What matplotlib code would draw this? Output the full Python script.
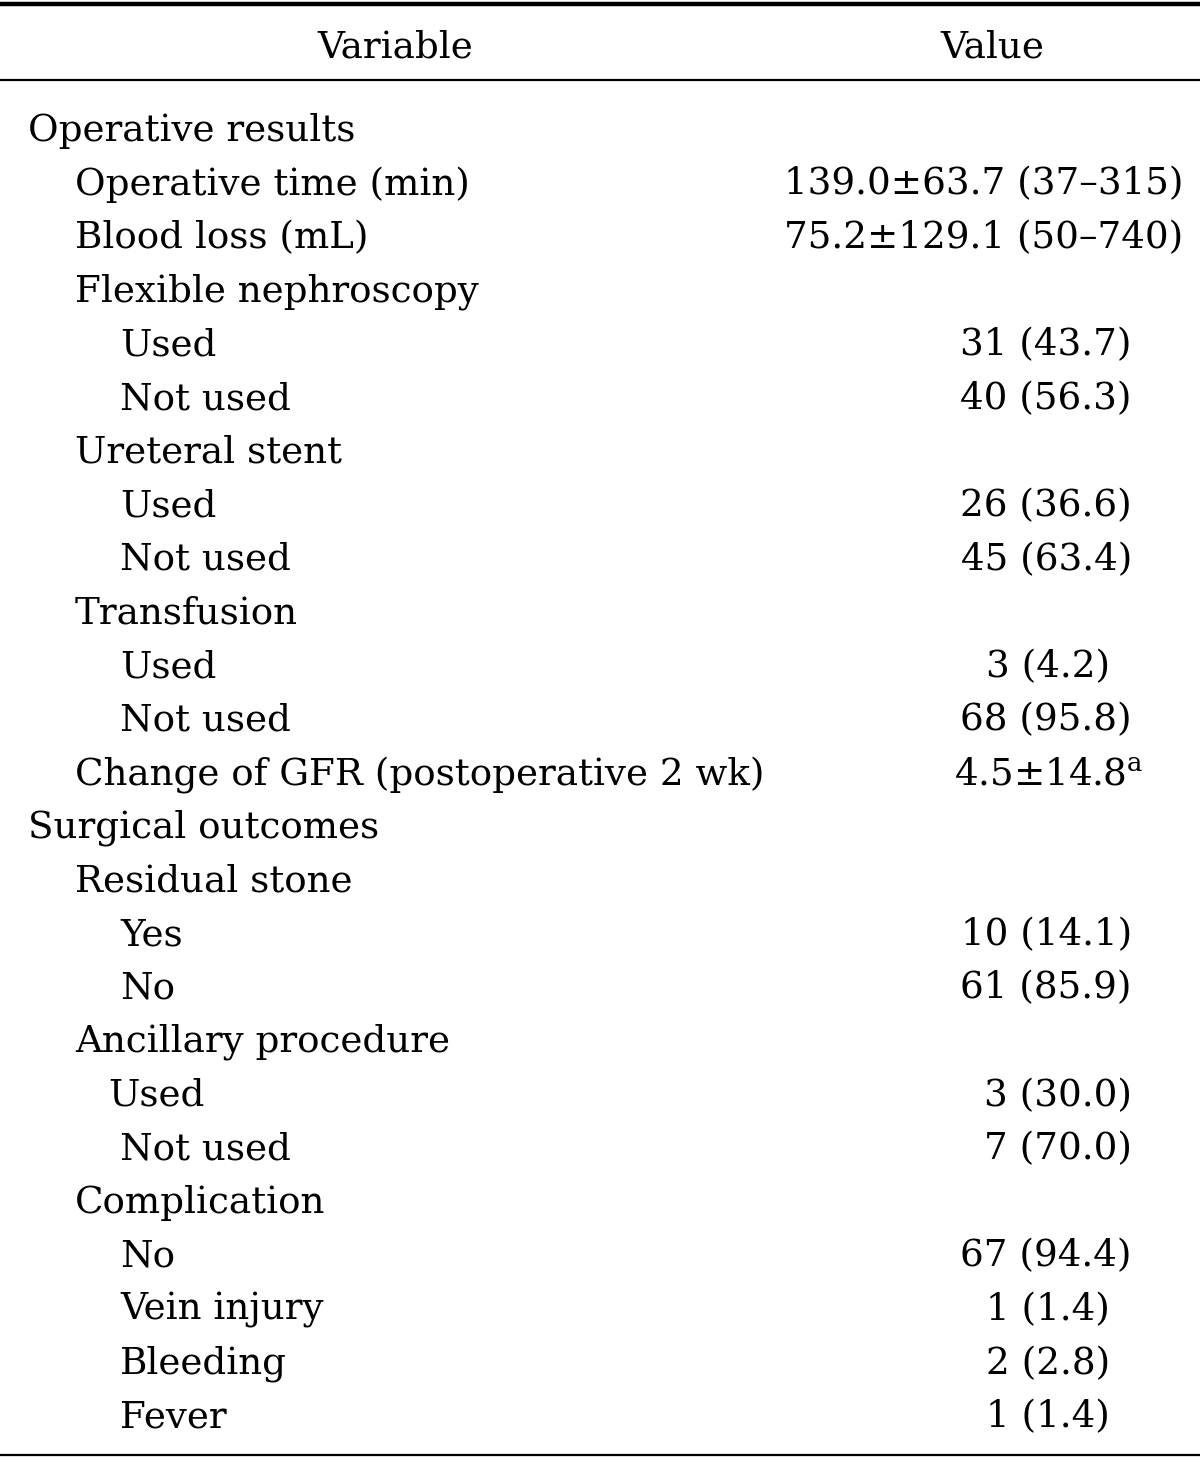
import matplotlib
matplotlib.use("Agg")
import matplotlib.pyplot as plt

# table content
labels = [
    "Operative results", "Operative time (min)", "Blood loss (mL)",
    "Flexible nephroscopy", "Used", "Not used",
    "Ureteral stent", "Used", "Not used",
    "Transfusion", "Used", "Not used",
    "Change of GFR (postoperative 2 wk)",
    "Surgical outcomes", "Residual stone", "Yes", "No",
    "Ancillary procedure", "Used", "Not used",
    "Complication", "No", "Vein injury", "Bleeding", "Fever",
]
levels = [0, 1, 1, 1, 2, 2, 1, 2, 2, 1, 2, 2, 1, 0, 1, 2, 2, 1, 2, 2, 1, 2, 2, 2, 2]
values = [
    "", "139.0\u00b163.7 (37\u2013315)", "75.2\u00b1129.1 (50\u2013740)",
    "", "31 (43.7)", "40 (56.3)",
    "", "26 (36.6)", "45 (63.4)",
    "", "3 (4.2)", "68 (95.8)",
    "4.5\u00b114.8$^{\\mathrm{a}}$",
    "", "", "10 (14.1)", "61 (85.9)",
    "", "3 (30.0)", "7 (70.0)",
    "", "67 (94.4)", "1 (1.4)", "2 (2.8)", "1 (1.4)",
]
header = ["Variable", "Value"]

# layout (pixels)
value_right = [0, 1183, 1183, 0, 1132, 1132, 0, 1132, 1132, 0, 1110, 1132,
               1143, 0, 0, 1132, 1132, 0, 1132, 1132, 0, 1132, 1110, 1110, 1110]
indent = {0: 28, 1: 75, 2: 120}

W, H = 1200, 1459
plt.rcParams["font.family"] = ["DejaVu Serif"]
plt.rcParams["mathtext.fontset"] = "dejavuserif"
fig = plt.figure(figsize=(W / 100, H / 100), dpi=100)
ax = fig.add_axes([0, 0, 1, 1])
ax.set_xlim(0, W)
ax.set_ylim(H, 0)
ax.axis("off")

fs = 26.8
ax.axhline(4, color="black", lw=3.2)
ax.axhline(80, color="black", lw=1.6)
ax.axhline(1455, color="black", lw=1.6)

ax.text(395, 48, header[0], ha="center", va="center", fontsize=fs)
ax.text(992, 48, header[1], ha="center", va="center", fontsize=fs)

y0, dy = 131, 53.6
for i, (lab, lev, val) in enumerate(zip(labels, levels, values)):
    y = y0 + i * dy
    x = indent[lev]
    if lab == "Used" and i == 18:
        x = 108
    ax.text(x, y, lab, ha="left", va="center", fontsize=fs)
    if val:
        ax.text(value_right[i], y, val, ha="right", va="center", fontsize=fs)

fig.savefig("out.png", dpi=100)
